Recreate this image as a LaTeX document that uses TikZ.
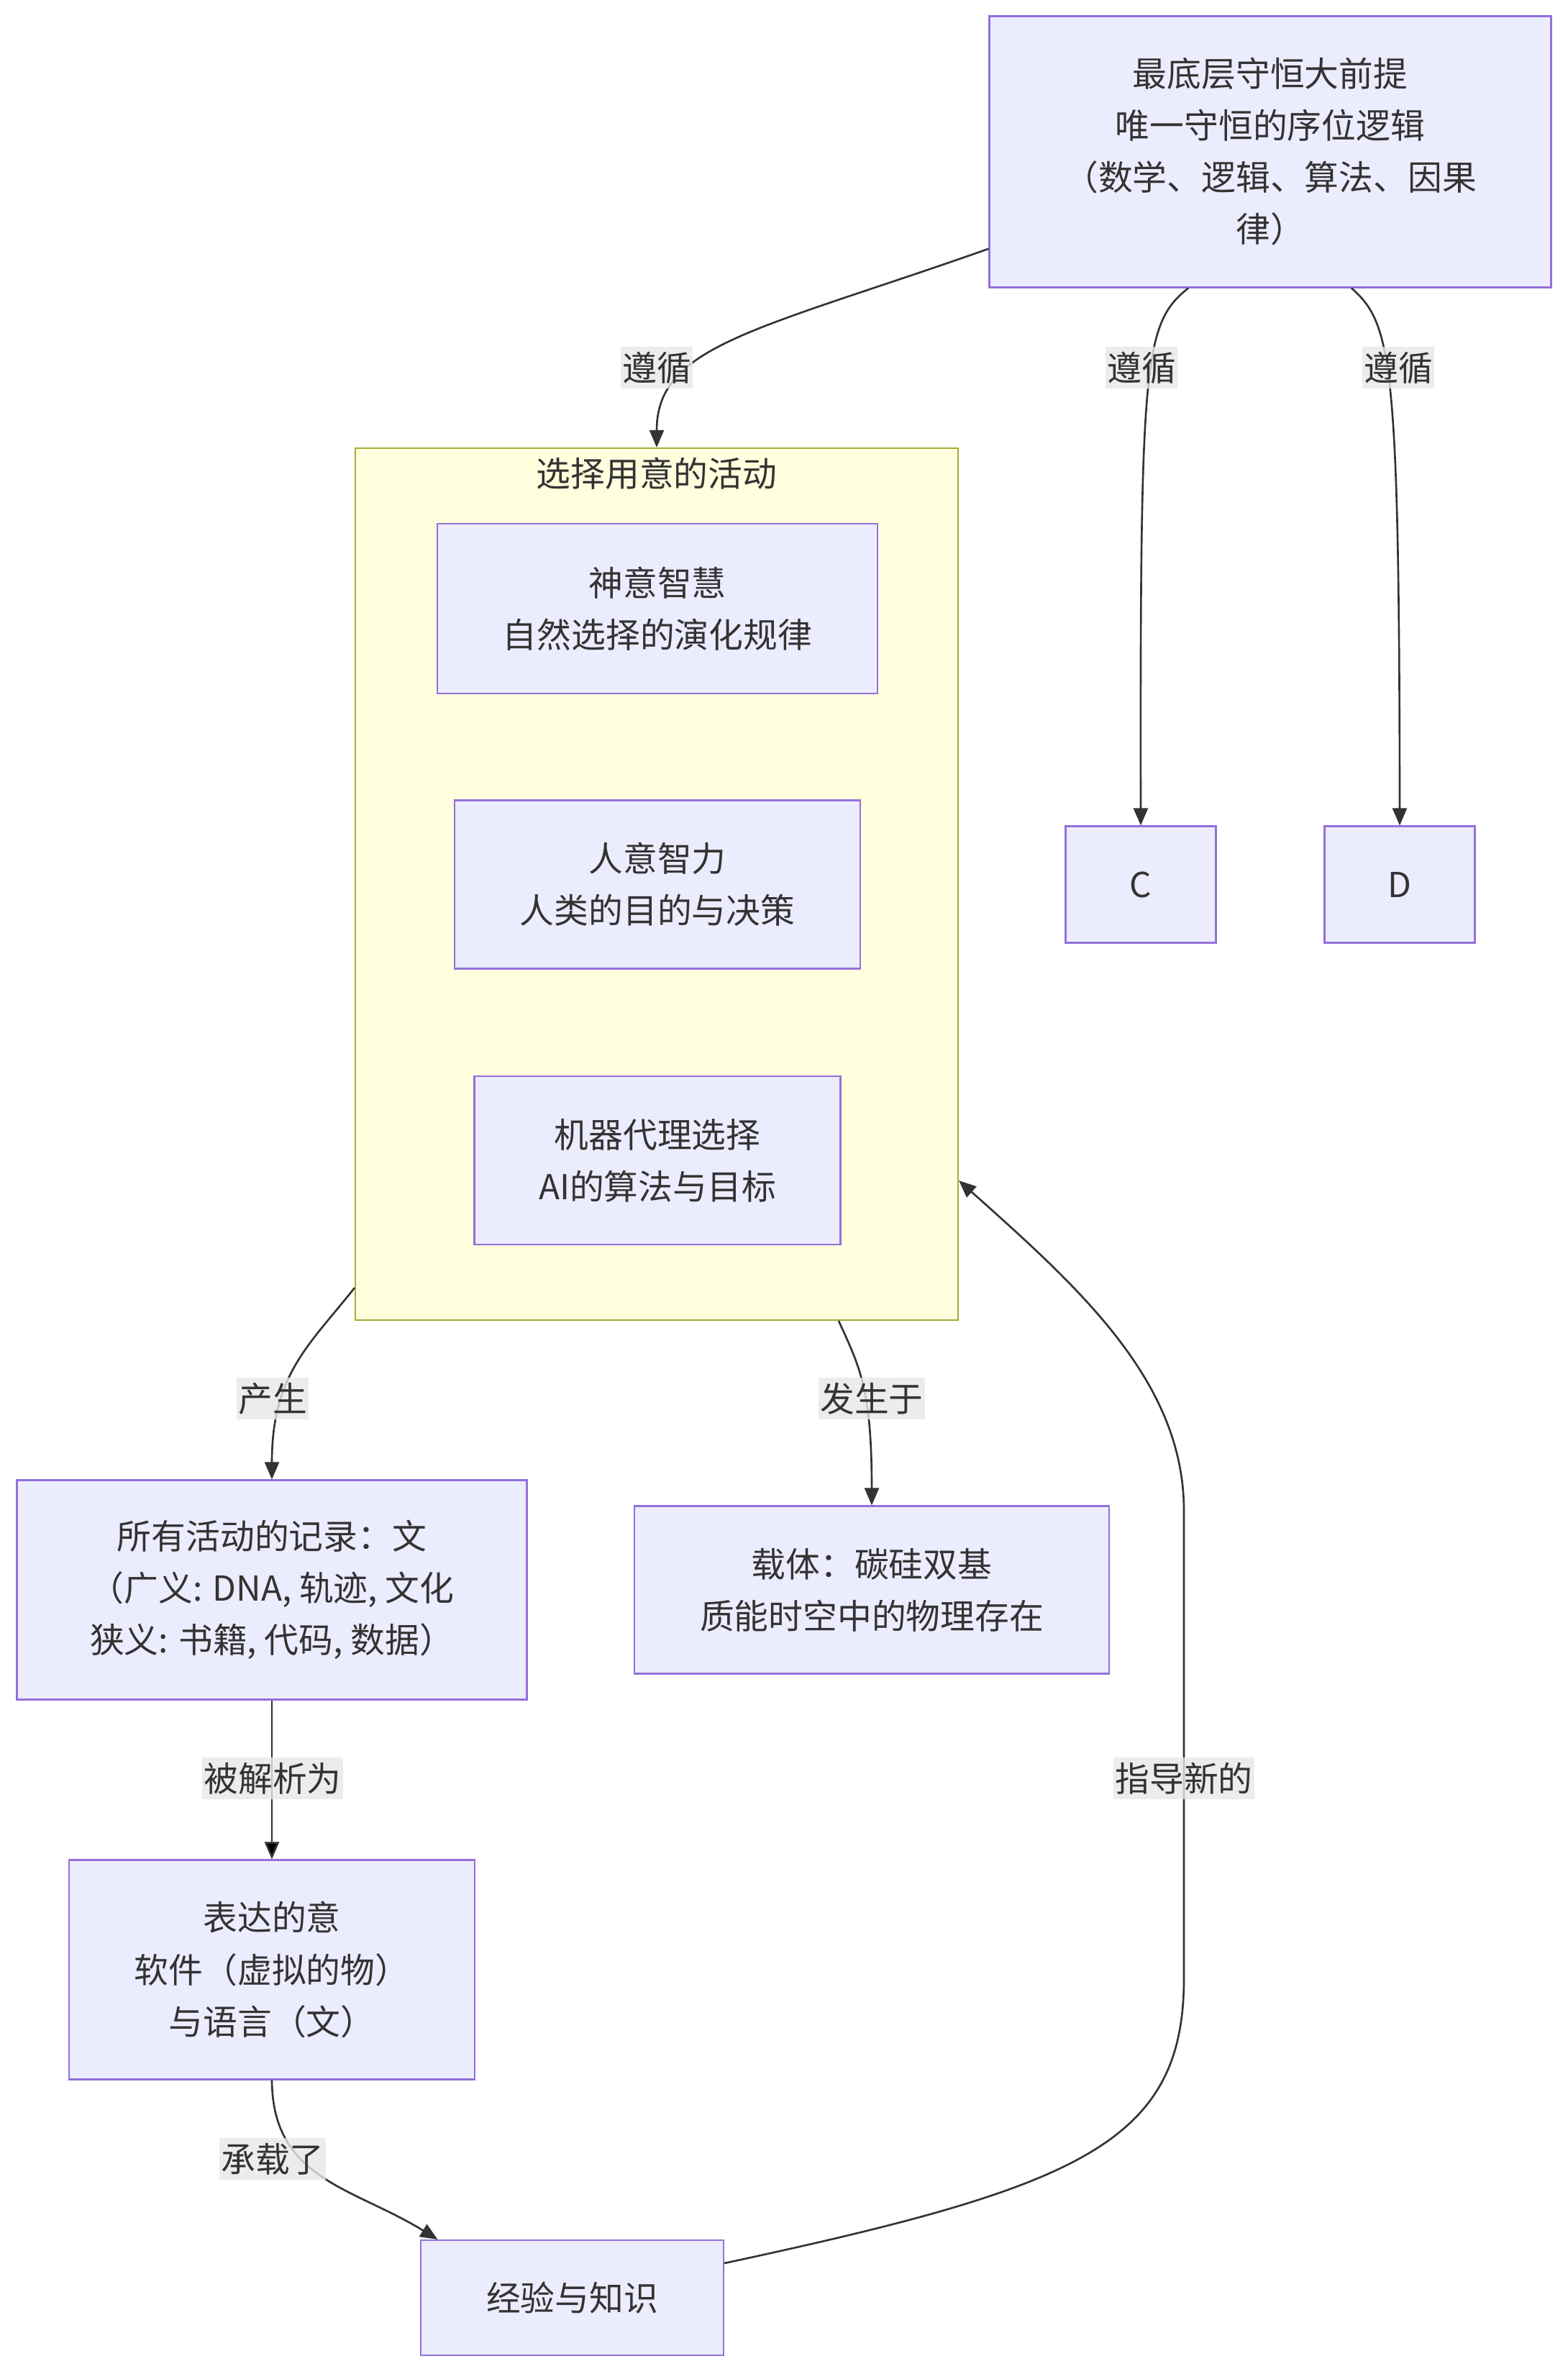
\documentclass[tikz,border=0pt]{standalone}
\usepackage{fontspec}
\newfontfamily\cjk{Noto Sans CJK SC}
\usetikzlibrary{arrows.meta}
\usetikzlibrary{positioning}
\definecolor{nodefill}{HTML}{ECECFF}
\definecolor{nodeline}{HTML}{9370DB}
\definecolor{groupfill}{HTML}{FFFFDE}
\definecolor{groupline}{HTML}{AAAA33}
\definecolor{textc}{HTML}{333333}
\definecolor{labelfill}{HTML}{E8E8E8}

\begin{document}
\begin{tikzpicture}[->,>={Triangle[length=2.4mm,width=2mm]},node distance=38.35mm,line width=0.75pt,
    main node/.style={rectangle,draw=nodeline,fill=nodefill,line width=0.6pt,text=textc,
      font=\cjk\fontsize{13.6}{20.5}\selectfont,align=center,inner sep=0pt},
    group node/.style={rectangle,draw=groupline,fill=groupfill,line width=0.6pt,
      minimum width=83.8mm,minimum height=121.2mm},
    edge label/.style={fill=labelfill,fill opacity=0.8,text opacity=1,text=textc,
      font=\cjk\fontsize{13.6}{20.5}\selectfont,inner xsep=0.2mm,inner ysep=0.7mm}]

    \path[fill=white,use as bounding box] (0,0) rectangle (21.8,-33);

    % top premise
    \node[main node,minimum width=78.1mm,minimum height=37.7mm] (1) at (17.66,-2.11)
      {最底层守恒大前提\\唯一守恒的序位逻辑\\（数学、逻辑、算法、因果\\律）};

    % group of choosing activities
    \node[group node,label={[anchor=center,yshift=-3.6mm,text=textc,font=\cjk\fontsize{13.6}{20.5}\selectfont]north:选择用意的活动}] (0) at (9.13,-12.29) {};
    \node[main node,minimum width=61.2mm,minimum height=23.6mm] (2) at (9.14,-8.46) {神意智慧\\自然选择的演化规律};
    \node[main node,minimum width=56.4mm,minimum height=23.4mm] (3) [below of=2] {人意智力\\人类的目的与决策};
    \node[main node,minimum width=50.9mm,minimum height=23.4mm] (4) [below of=3] {机器代理选择\\AI的算法与目标};

    \node[main node,minimum width=20.9mm,minimum height=16.2mm] (5) [right of=3, node distance=67.2mm] {C};
    \node[main node,minimum width=20.9mm,minimum height=16.2mm] (6) [right of=5, node distance=36mm] {D};

    \node[main node,minimum width=70.9mm,minimum height=30.5mm] (7) at (3.78,-22.10)
      {所有活动的记录：文\\（广义: DNA, 轨迹, 文化\\狭义: 书籍, 代码, 数据）};
    \node[main node,minimum width=66mm,minimum height=23.3mm] (8) [right of=7, node distance=83.4mm]
      {载体：碳硅双基\\质能时空中的物理存在};
    \node[main node,minimum width=56.4mm,minimum height=30.5mm] (9) [below of=7, node distance=52.8mm]
      {表达的意\\软件（虚拟的物）\\与语言（文）};
    \node[main node,minimum width=42.1mm,minimum height=16mm] (10) at (7.955,-31.94) {经验与知识};

    % connectors
    \draw[textc] (1.199.4) .. controls (10.5,-4.6) and (9.13,-4.8) .. (0.north);
    \draw[textc] ([xshift=-11.4mm]1.south) .. controls (15.9,-4.5) and (15.85,-5.0) .. (5.north);
    \draw[textc] ([xshift=11.3mm]1.south) .. controls (19.35,-4.5) and (19.455,-5.0) .. (6.north);
    \draw[textc] ([yshift=4.6mm]0.south west) .. controls (4.3,-18.7) and (3.78,-19.1) .. (7.north);
    \draw[textc] ([xshift=25.3mm]0.south) .. controls (11.95,-19.0) and (12.12,-19.3) .. (8.north);
    \path[draw=textc] (7) edge (9);
    \draw[textc] (9.south) .. controls (3.79,-30.3) and (4.9,-30.4) .. ([xshift=-18.7mm]10.north);
    \draw[textc] ([yshift=4.8mm]10.east) .. controls (15.0,-30.4) and (16.46,-29.8) .. (16.46,-27.5)
      -- (16.46,-21.0) .. controls (16.46,-19.2) and (15.0,-17.9) .. ([yshift=-41.2mm]0.east);

    % connector labels
    \node[edge label] (l1) at (9.13,-5.11) {遵循};
    \node[edge label] (l2) at (15.87,-5.11) {遵循};
    \node[edge label] (l3) at (19.44,-5.11) {遵循};
    \node[edge label] (l4) at (3.79,-19.44) {产生};
    \node[edge label] (l5) at (12.12,-19.44) {发生于};
    \node[edge label] (l6) at (3.79,-24.72) {被解析为};
    \node[edge label] (l7) at (3.79,-30.01) {承载了};
    \node[edge label] (l8) at (16.46,-24.72) {指导新的};
\end{tikzpicture}
\end{document}
